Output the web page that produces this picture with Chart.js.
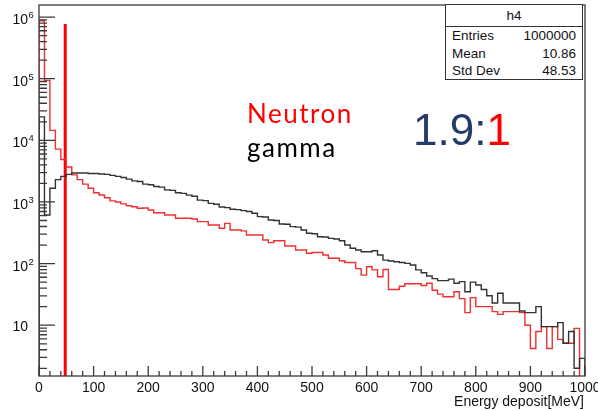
<!DOCTYPE html>
<html>
<head>
<meta charset="utf-8">
<script src="https://cdn.jsdelivr.net/npm/chart.js@4.4.0/dist/chart.umd.min.js"></script>
<style>
  html, body { margin: 0; padding: 0; background: #fff; }
  #wrap { position: relative; width: 598px; height: 411px; overflow: hidden; }
  canvas { display: block; }
  .note { position: absolute; white-space: nowrap; line-height: 1; }
  #neutronLabel, #gammaLabel { font-family: Lato, "Open Sans", sans-serif; font-size: 26px; letter-spacing: 1.5px; }
  #neutronLabel { left: 247px; top: 100px; color: #ff0000; }
  #gammaLabel { left: 247px; top: 134px; color: #000; }
  #ratioLabel { left: 413px; top: 108px; font-family: "Liberation Sans", Arial, sans-serif; font-size: 44px; color: #253c6b; }
  #ratioLabel span { color: #ff0000; }
  #stats { position: absolute; left: 445px; top: 4px; width: 136px; height: 74px; border: 1px solid #333; background: #fff;
           font-family: "Liberation Sans", Arial, sans-serif; font-size: 13.5px; color: #111; }
  #stats .title { height: 21px; line-height: 21px; text-align: center; border-bottom: 1px solid #333; }
  #stats .row { height: 17.5px; line-height: 17.5px; padding: 0 6px 0 6px; display: flex; justify-content: space-between; }
  #stats .row:first-of-type { margin-top: 2px; }
</style>
</head>
<body>
<div id="wrap">
  <canvas id="histChart" width="598" height="411"></canvas>
  <div class="note" id="neutronLabel">Neutron</div>
  <div class="note" id="gammaLabel">gamma</div>
  <div class="note" id="ratioLabel">1.9:<span>1</span></div>
  <div id="stats"></div>
</div>
<script>
// Histogram binning: 100 bins of 10 MeV from 0 to 1000
const xMin = 0;
const xMax = 1000;
const binWidth = 10;

// Counts per bin
const neutronCounts = [
  870000, 94000, 14500, 7200, 4900, 3700, 2750, 2300, 1950, 1670,
  1410, 1300, 1170, 1040, 1000, 930, 870, 835, 790, 800,
  740, 670, 670, 615, 615, 545, 545, 545, 530, 480,
  480, 424, 424, 375, 450, 350, 350, 340, 291, 291,
  291, 241, 219, 235, 235, 193, 193, 166, 166, 147,
  151, 151, 138, 122, 122, 111, 104, 104, 83, 65,
  89, 79, 61, 80, 38, 38, 43, 47, 47, 47,
  44, 48, 37, 32, 29, 29, 35, 27, 16, 28,
  20, 20, 20, 16.6, 15, 16.6, 16.6, 16.6, 16, 10,
  4.2, 7.9, 9.5, 4.2, 9.5, 5.9, 5.1, 5.1, 8.9, 0
];
const gammaCounts = [
  24000, 615, 1670, 2300, 2600, 2800, 2950, 2950, 2950, 2900,
  2900, 2850, 2800, 2700, 2600, 2500, 2350, 2200, 2150, 1950,
  1900, 1780, 1740, 1570, 1540, 1410, 1380, 1290, 1240, 1070,
  1050, 950, 920, 830, 810, 760, 750, 723, 700, 655,
  578, 570, 510, 500, 440, 435, 398, 390, 351, 310,
  305, 273, 270, 257, 250, 235, 200, 177, 166, 156,
  156, 162, 138, 114, 110, 107, 104, 101, 95, 79,
  71, 63, 57, 53, 53, 56, 48, 51, 35, 50,
  45, 38, 30, 23, 33, 23, 23, 23, 17, 16,
  16, 20, 9.5, 9.5, 9.5, 11, 5.1, 7.9, 2.0, 2.9
];

// Vertical cut line
const cutEnergy = 48;
const cutTop = 770000;

// Axes
const yMin = 1.5;
const yMax = 1.57e6;
const xTickLabels = [0, 100, 200, 300, 400, 500, 600, 700, 800, 900, 1000];
const yDecades = [1, 2, 3, 4, 5, 6];
const xTitle = 'Energy deposit[MeV]';

// Stats box
const statsTitle = 'h4';
const statsNames = ['Entries', 'Mean', 'Std Dev'];
const statsValues = ['1000000', '10.86', '48.53'];

const floorValue = 1; // below axis minimum, for empty bins

const statsBox = document.getElementById('stats');
statsBox.innerHTML = '<div class="title">' + statsTitle + '</div>' +
  statsNames.map((n, i) => '<div class="row"><span>' + n + '</span><span>' + statsValues[i] + '</span></div>').join('');

function histPoints(values) {
  const pts = [{ x: xMin, y: floorValue }];
  values.forEach((v, i) => pts.push({ x: xMin + i * binWidth, y: v > 0 ? v : floorValue }));
  pts.push({ x: xMin + values.length * binWidth, y: floorValue });
  return pts;
}

const FONT = '"Liberation Sans", Arial, sans-serif';

const rootAxes = {
  id: 'rootAxes',
  afterDatasetsDraw(chart) {
    const { ctx, chartArea: a, scales: { x, y } } = chart;
    ctx.save();
    ctx.strokeStyle = '#3a3a3a';
    ctx.lineWidth = 1.3;
    ctx.strokeRect(a.left, a.top, a.right - a.left, a.bottom - a.top);

    ctx.beginPath();
    for (let v = xMin; v <= xMax; v += 20) {
      const px = x.getPixelForValue(v);
      const len = v % 100 === 0 ? 10 : 5;
      ctx.moveTo(px, a.bottom);
      ctx.lineTo(px, a.bottom - len);
    }
    for (let d = 0; d <= 6; d++) {
      for (let m = 1; m <= 9; m++) {
        const v = m * Math.pow(10, d);
        if (v < yMin || v > yMax) continue;
        const py = y.getPixelForValue(v);
        const len = m === 1 ? 16 : 8;
        ctx.moveTo(a.left, py);
        ctx.lineTo(a.left + len, py);
      }
    }
    ctx.stroke();

    ctx.fillStyle = '#111';
    ctx.font = '14px ' + FONT;
    ctx.textAlign = 'center';
    ctx.textBaseline = 'alphabetic';
    xTickLabels.forEach(v => ctx.fillText(String(v), x.getPixelForValue(v), a.bottom + 16));

    yDecades.forEach(d => {
      const py = y.getPixelForValue(Math.pow(10, d));
      ctx.font = '14px ' + FONT;
      ctx.textAlign = 'right';
      if (d === 1) {
        ctx.fillText('10', 28, py + 6);
      } else {
        ctx.fillText('10', 28, py + 7);
        ctx.font = '9.5px ' + FONT;
        ctx.textAlign = 'left';
        ctx.fillText(String(d), 28.5, py + 1);
      }
    });

    ctx.font = '14px ' + FONT;
    ctx.textAlign = 'right';
    ctx.fillText(xTitle, 584, 406);
    ctx.restore();
  }
};

const ctx = document.getElementById('histChart').getContext('2d');
new Chart(ctx, {
  type: 'line',
  data: {
    datasets: [
      {
        label: 'gamma',
        data: histPoints(gammaCounts),
        borderColor: '#333333',
        borderWidth: 1.4,
        stepped: 'before',
        pointRadius: 0,
        fill: false
      },
      {
        label: 'Neutron',
        data: histPoints(neutronCounts),
        borderColor: '#ee3030',
        borderWidth: 1.4,
        stepped: 'before',
        pointRadius: 0,
        fill: false
      },
      {
        label: 'cut',
        data: [{ x: cutEnergy, y: cutTop }, { x: cutEnergy, y: floorValue }],
        borderColor: '#ff0000',
        borderWidth: 3,
        pointRadius: 0,
        fill: false
      }
    ]
  },
  options: {
    responsive: false,
    animation: false,
    layout: { padding: { left: 39, right: 13, top: 5, bottom: 35 } },
    scales: {
      x: { type: 'linear', min: xMin, max: xMax, display: false },
      y: { type: 'logarithmic', min: yMin, max: yMax, display: false }
    },
    plugins: {
      legend: { display: false },
      tooltip: { enabled: false }
    }
  },
  plugins: [rootAxes]
});
</script>
</body>
</html>
